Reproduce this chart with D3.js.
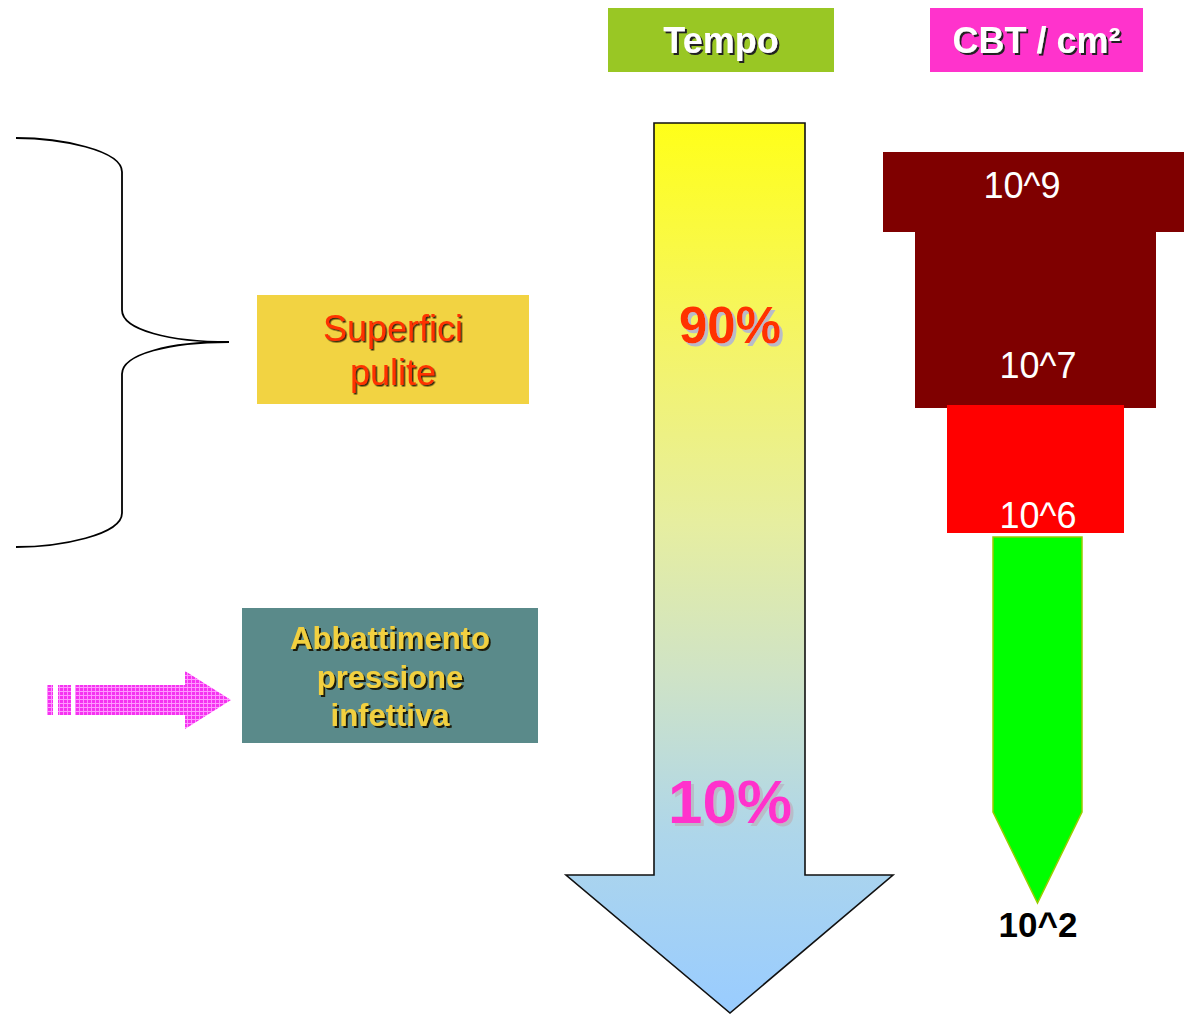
<!DOCTYPE html>
<html>
<head>
<meta charset="utf-8">
<script src="https://cdn.jsdelivr.net/npm/d3@7"></script>
<style>
  html, body { margin: 0; padding: 0; background: #fff; }
  svg { display: block; font-family: "Liberation Sans", Arial, sans-serif; }
</style>
</head>
<body>
<div id="chart"></div>
<script>
// data
const headerLabels = ["Tempo", "CBT / cm²"];
const timeShares = [90, 10];
const timeLabels = ["90%", "10%"];
const cbtExponents = [9, 7, 6, 2];
const cbtLabels = ["10^9", "10^7", "10^6", "10^2"];
const cleanLabel = ["Superfici", "pulite"];
const pressureLabel = ["Abbattimento", "pressione", "infettiva"];

const width = 1184, height = 1015;

const svg = d3.select("#chart").append("svg")
    .attr("width", width)
    .attr("height", height);

const defs = svg.append("defs");

// vertical gradient of the big "time" arrow
const grad = defs.append("linearGradient")
    .attr("id", "timeGrad")
    .attr("x1", 0).attr("y1", 0).attr("x2", 0).attr("y2", 1);
[[0, "#ffff19"], [0.25, "#f4f468"], [0.45, "#e6eea0"], [0.62, "#cfe3c6"], [0.8, "#aed6ea"], [1, "#99ccff"]]
    .forEach(([o, c]) => grad.append("stop").attr("offset", o).attr("stop-color", c));

// checked texture of the pink arrow
const pat = defs.append("pattern")
    .attr("id", "pinkGrid")
    .attr("width", 4).attr("height", 4)
    .attr("patternUnits", "userSpaceOnUse");
pat.append("rect").attr("width", 4).attr("height", 4).attr("fill", "#f533f0");
pat.append("rect").attr("x", 3).attr("width", 1).attr("height", 4).attr("fill", "#ff8cff");
pat.append("rect").attr("y", 3).attr("width", 4).attr("height", 1).attr("fill", "#ff99ff");

// drop shadows as filters, so each label is a single text
function addShadow(id, d, color) {
    const f = defs.append("filter")
        .attr("id", id)
        .attr("x", "-10%").attr("y", "-20%")
        .attr("width", "130%").attr("height", "150%");
    f.append("feDropShadow")
        .attr("dx", d).attr("dy", d)
        .attr("stdDeviation", 0.3)
        .attr("flood-color", color)
        .attr("flood-opacity", 1);
}
addShadow("shHeader", 2, "#222");
addShadow("shShare", 3, "#b8bcc8");
addShadow("shClean", 1.5, "#3a2a10");
addShadow("shPress", 2, "#1e1e10");

function labelText(g, lines, x, y0, lineH, opts) {
    g.append("text")
        .attr("x", x)
        .attr("y", y0)
        .attr("text-anchor", "middle")
        .attr("font-size", opts.size)
        .attr("font-weight", opts.weight || "normal")
        .attr("fill", opts.color)
        .attr("filter", `url(#${opts.filter})`)
        .selectAll("tspan")
        .data(lines)
        .enter()
        .append("tspan")
        .attr("x", x)
        .attr("dy", (d, i) => i === 0 ? 0 : lineH)
        .text(d => d);
}

// ---- header boxes
const headerX = d3.scaleOrdinal().domain(headerLabels).range([608, 930]);
const headerW = d3.scaleOrdinal().domain(headerLabels).range([226, 213]);
const headerFill = d3.scaleOrdinal().domain(headerLabels).range(["#99c724", "#ff33cc"]);

const headers = svg.append("g");
headers.selectAll("rect")
    .data(headerLabels)
    .enter()
    .append("rect")
    .attr("x", d => headerX(d))
    .attr("y", 8)
    .attr("width", d => headerW(d))
    .attr("height", 64)
    .attr("fill", d => headerFill(d));
headerLabels.forEach(d => {
    labelText(headers, [d], headerX(d) + headerW(d) / 2, 53, 0,
        {size: 36, weight: "bold", color: "#fff", filter: "shHeader"});
});

// ---- big time arrow
const arrow = {left: 654, right: 805, top: 123, neck: 875, headL: 566, headR: 893, tip: 1013};
const cx = (arrow.left + arrow.right) / 2 + 0.5;
const arrowPath = d3.path();
arrowPath.moveTo(arrow.left, arrow.top);
arrowPath.lineTo(arrow.right, arrow.top);
arrowPath.lineTo(arrow.right, arrow.neck);
arrowPath.lineTo(arrow.headR, arrow.neck);
arrowPath.lineTo(cx, arrow.tip);
arrowPath.lineTo(arrow.headL, arrow.neck);
arrowPath.lineTo(arrow.left, arrow.neck);
arrowPath.closePath();
svg.append("path")
    .attr("d", arrowPath.toString())
    .attr("fill", "url(#timeGrad)")
    .attr("stroke", "#111")
    .attr("stroke-width", 1.6)
    .attr("stroke-linejoin", "miter");

// share of time -> vertical position along the arrow
const yShare = d3.scaleLinear().domain([90, 10]).range([343, 823]);
const shareSize = d3.scaleOrdinal().domain(timeShares).range([51, 62]);
const shareColor = d3.scaleOrdinal().domain(timeShares).range(["#ff3300", "#ff33cc"]);
const shares = svg.append("g");
timeShares.forEach((v, i) => {
    labelText(shares, [timeLabels[i]], cx, yShare(v), 0,
        {size: shareSize(v), weight: "bold", color: shareColor(v), filter: "shShare"});
});

// ---- CBT tiers
const tierW = d3.scaleLinear().domain([2, 6, 7, 9]).range([89, 177, 241, 301]);
const tierCx = d3.scaleLinear().domain([2, 6, 7, 9]).range([1037.5, 1035.5, 1035.5, 1033.5]);
const tierEdge = d3.scaleLinear().domain([9, 7, 6, 2, 0]).range([152, 232, 405, 537, 903]);
const tierFill = d3.scaleOrdinal().domain(cbtExponents).range(["#7f0000", "#7f0000", "#ff0000", "#00ff00"]);
const nextEdge = (i) => i + 1 < cbtExponents.length ? cbtExponents[i + 1] : 0;
const tierPad = [0, 3, -4];

const cbt = svg.append("g");
const rectTiers = cbtExponents.slice(0, 3);
cbt.selectAll("rect")
    .data(rectTiers)
    .enter()
    .append("rect")
    .attr("x", d => tierCx(d) - tierW(d) / 2)
    .attr("y", d => tierEdge(d))
    .attr("width", d => tierW(d))
    .attr("height", (d, i) => tierEdge(nextEdge(i)) - tierEdge(d) + tierPad[i])
    .attr("fill", d => tierFill(d));

// last tier is a pointed green tag
const gE = cbtExponents[3];
const gL = tierCx(gE) - tierW(gE) / 2, gR = tierCx(gE) + tierW(gE) / 2;
const gTop = tierEdge(gE), gTip = tierEdge(0), gShoulder = gTip - 91;
cbt.append("path")
    .attr("d", `M${gL},${gTop}L${gR},${gTop}L${gR},${gShoulder}L${tierCx(gE)},${gTip}L${gL},${gShoulder}Z`)
    .attr("fill", tierFill(gE))
    .attr("stroke", "#99cc00")
    .attr("stroke-width", 1.5);

// tier labels
const labelX = [1022, 1038, 1038, 1038];
const labelY = [198, 378, 528, 937];
cbt.selectAll("text")
    .data(cbtLabels)
    .enter()
    .append("text")
    .attr("x", (d, i) => labelX[i])
    .attr("y", (d, i) => labelY[i])
    .attr("text-anchor", "middle")
    .attr("font-size", (d, i) => i === 3 ? 35 : 36)
    .attr("font-weight", (d, i) => i === 3 ? "bold" : "normal")
    .attr("fill", (d, i) => i === 3 ? "#000" : "#fff")
    .text(d => d);

// ---- brace
const brace = d3.path();
brace.moveTo(16, 138);
brace.bezierCurveTo(60, 138, 122, 150, 122, 172);
brace.lineTo(122, 310);
brace.bezierCurveTo(122, 330, 170, 342, 229, 342);
brace.bezierCurveTo(170, 342, 122, 354, 122, 374);
brace.lineTo(122, 513);
brace.bezierCurveTo(122, 535, 60, 547, 16, 547);
svg.append("path")
    .attr("d", brace.toString())
    .attr("fill", "none")
    .attr("stroke", "#000")
    .attr("stroke-width", 1.8);

// ---- "Superfici pulite" box
const cleanBox = svg.append("g");
cleanBox.append("rect")
    .attr("x", 257).attr("y", 295)
    .attr("width", 272).attr("height", 109)
    .attr("fill", "#f2d342");
labelText(cleanBox, cleanLabel, 393, 341, 44,
    {size: 36, color: "#ff3300", filter: "shClean"});

// ---- "Abbattimento pressione infettiva" box
const pressBox = svg.append("g");
pressBox.append("rect")
    .attr("x", 242).attr("y", 608)
    .attr("width", 296).attr("height", 135)
    .attr("fill", "#5a8a8a");
labelText(pressBox, pressureLabel, 390, 649, 38.5,
    {size: 31, weight: "bold", color: "#f2d040", filter: "shPress"});

// ---- pink arrow
const pink = svg.append("g").attr("fill", "url(#pinkGrid)");
pink.append("rect").attr("x", 47).attr("y", 685).attr("width", 6).attr("height", 30);
pink.append("rect").attr("x", 58).attr("y", 685).attr("width", 13).attr("height", 30);
pink.append("path")
    .attr("d", "M75,685L185,685L185,671L231,700L185,729L185,715L75,715Z");
</script>
</body>
</html>
